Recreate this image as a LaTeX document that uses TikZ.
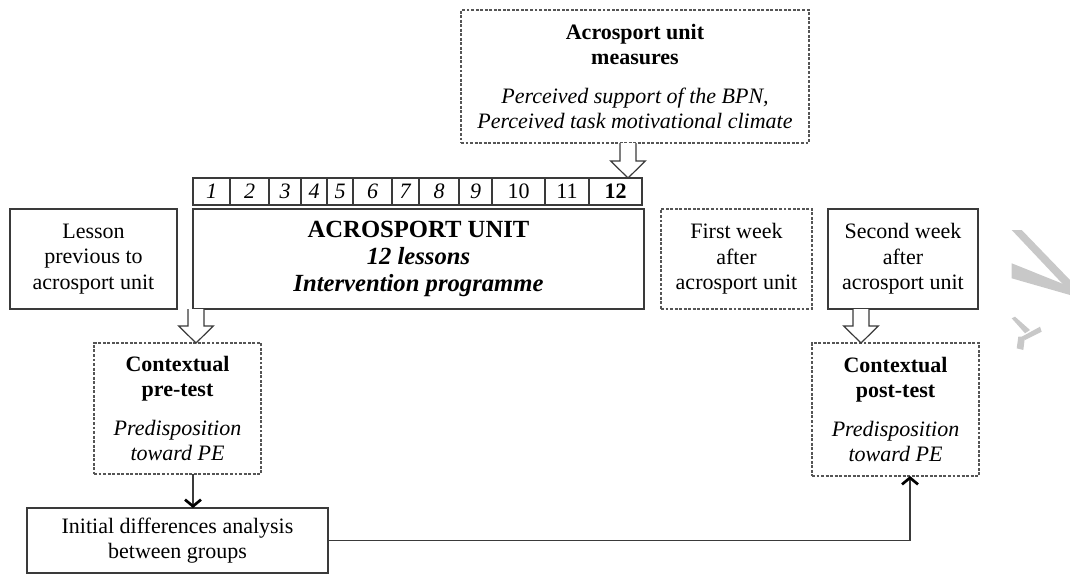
\documentclass[tikz,border=0pt]{standalone}
\usepackage{fontspec}
\setmainfont{Liberation Serif}
\usetikzlibrary{arrows.meta,calc}
\definecolor{boxgray}{HTML}{3A3A3A}
\definecolor{dashgray}{HTML}{555555}
\definecolor{wmgray}{HTML}{C8C8C8}
\tikzset{
 base/.style={inner sep=0pt, outer sep=0pt, align=center, font=\fontsize{16.5}{19}\selectfont},
 solidbox/.style={base, draw=boxgray, line width=0.9pt},
 dashbox/.style={base, draw=dashgray, line width=0.9pt, dash pattern=on 2.2pt off 1.2pt},
 cell/.style={base, draw=boxgray, line width=0.8pt},
 hollow/.style={draw=boxgray, fill=white, line width=0.9pt, line join=miter},
 conn/.style={draw=boxgray, line width=0.8pt, -{Straight Barb[length=5pt,width=12pt,line width=2pt,color=black]}},
 wm/.style={fill=wmgray, draw=none}
}
% \bx{name}{style}{x1}{y1}{x2}{y2}{text}  (pixel corners)
\newcommand\bx[7]{%
 \node[#2, minimum width={(#5-#3)*0.75pt}, minimum height={(#6-#4)*0.75pt}]
 (#1) at ({(#3+#5)/2},{(#4+#6)/2}) {#7};}
\newcommand\holarrow[2]{%
 \draw[hollow] let \p1=(#1), \p2=(#2) in
 (\x2-6pt,\y1) -- (\x2-6pt,\y2+12.75pt) -- (\x2-13pt,\y2+12.75pt) -- (\x2,\y2)
 -- (\x2+13pt,\y2+12.75pt) -- (\x2+6pt,\y2+12.75pt) -- (\x2+6pt,\y1);}
\begin{document}
\begin{tikzpicture}[x=0.75pt,y=-0.75pt]
\useasboundingbox (0,0) rectangle (1070,575);

% top measures box
\bx{measures}{dashbox}{461}{10}{809}{143}
 {\textbf{Acrosport unit}\\\textbf{measures}\\[10pt]\textit{Perceived support of the BPN,}\\\textit{Perceived task motivational climate}}

% lesson cells
\bx{c1}{cell}{193}{178}{230}{205}{\textit{1}}
\bx{c2}{cell}{230}{178}{269}{205}{\textit{2}}
\bx{c3}{cell}{269}{178}{301}{205}{\textit{3}}
\bx{c4}{cell}{301}{178}{327}{205}{\textit{4}}
\bx{c5}{cell}{327}{178}{353}{205}{\textit{5}}
\bx{c6}{cell}{353}{178}{392}{205}{\textit{6}}
\bx{c7}{cell}{392}{178}{419}{205}{\textit{7}}
\bx{c8}{cell}{419}{178}{459}{205}{\textit{8}}
\bx{c9}{cell}{459}{178}{492}{205}{\textit{9}}
\bx{c10}{cell}{492}{178}{545}{205}{10}
\bx{c11}{cell}{545}{178}{589}{205}{11}
\bx{c12}{cell}{589}{178}{642}{205}{\textbf{12}}

% middle row
\bx{lesson}{solidbox}{10}{209}{177}{309}{Lesson\\previous to\\acrosport unit}
\bx{main}{solidbox, font=\fontsize{18.5}{20.5}\selectfont\bfseries}{193}{209}{644}{309}
 {ACROSPORT UNIT\\\textit{12 lessons}\\\textit{Intervention programme}}
\bx{first}{dashbox}{661}{209}{812}{309}{First week\\after\\acrosport unit}
\bx{second}{solidbox}{828}{209}{978}{309}{Second week\\after\\acrosport unit}

% tests
\bx{pretest}{dashbox}{94}{343}{261}{474}
 {\textbf{Contextual}\\\textbf{pre-test}\\[10pt]\textit{Predisposition}\\\textit{toward PE}}
\bx{posttest}{dashbox}{812}{343}{979}{476}
 {\textbf{Contextual}\\\textbf{post-test}\\[10pt]\textit{Predisposition}\\\textit{toward PE}}

% analysis
\bx{initial}{solidbox}{27}{508}{328}{573}{Initial differences analysis\\between groups}

% hollow arrows
\coordinate (xa) at (628,0);
\coordinate (xb) at (196,0);
\coordinate (xc) at (861,0);
\holarrow{measures.south -| xa}{c12.north -| xa}
\holarrow{main.south -| xb}{pretest.north -| xb}
\holarrow{second.south -| xc}{posttest.north -| xc}

% thin connectors
\coordinate (xd) at (193,0);
\coordinate (xe) at (910,0);
\draw[conn] (pretest.south -| xd) -- (initial.north -| xd);
\draw[conn] (initial.east) -| (posttest.south -| xe);

% watermark fragments
\fill[wm] (1011.7,230) -- (1021.7,230) -- (1070,280) -- (1070,291.7) -- cycle;
\fill[wm] (1011.7,263.3) -- (1011.7,278.3) -- (1070,295) -- (1070,286.7) -- cycle;
\fill[wm] (1011.7,318.3) -- (1015,316.7) -- (1030,330) -- (1025,333.3) -- cycle;
\fill[wm] (1040,326.7) -- (1041.7,331.7) -- (1025,340) -- (1021.7,336.7) -- cycle;
\fill[wm] (1018.3,336.7) -- (1025,336.7) -- (1023.3,350) -- (1016.7,348.3) -- cycle;
\end{tikzpicture}
\end{document}
